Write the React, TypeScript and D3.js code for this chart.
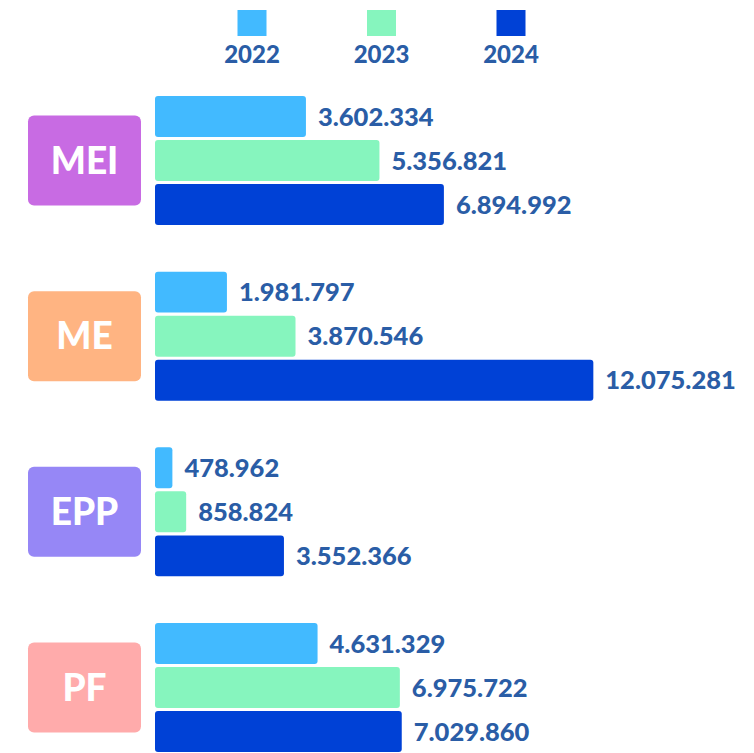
import React from "react";
import * as d3 from "d3";

const categories = ["MEI", "ME", "EPP", "PF"];
const years = ["2022", "2023", "2024"];
const values2022 = [3602334, 1981797, 478962, 4631329];
const values2023 = [5356821, 3870546, 858824, 6975722];
const values2024 = [6894992, 12075281, 3552366, 7029860];
const labels2022 = ["3.602.334", "1.981.797", "478.962", "4.631.329"];
const labels2023 = ["5.356.821", "3.870.546", "858.824", "6.975.722"];
const labels2024 = ["6.894.992", "12.075.281", "3.552.366", "7.029.860"];

// layout / style
const W = 754;
const H = 753;
const yearColors = ["#42BAFF", "#86F5BE", "#0041D6"];
const catColors = ["#C86BE3", "#FFB482", "#9687F6", "#FFABAB"];
const textColor = "#2A5DA6";
// pixels per million, per group (the infographic scales each group separately)
const groupPxPerMillion = [41.9, 36.3, 36.3, 35.1];
const FONT = "Lato, 'Open Sans', sans-serif";

export default function App() {
  const series = [values2022, values2023, values2024];
  const labels = [labels2022, labels2023, labels2024];

  const x0 = 155;
  const yGroup = d3
    .scaleBand<string>()
    .domain(categories)
    .range([96, 752])
    .paddingInner(0.2657)
    .paddingOuter(0);
  const groupH = yGroup.bandwidth();
  const ySub = d3.scaleBand<string>().domain(years).range([0, groupH]).paddingInner(0.07);

  const legendX = d3.scalePoint<string>().domain(years).range([252, 511]);

  return (
    <svg
      width={W}
      height={H}
      style={{ position: "absolute", left: 0, top: 0, background: "#fff" }}
      fontFamily={FONT}
    >
      {/* legend */}
      {years.map((yr, i) => (
        <g key={yr} transform={`translate(${legendX(yr)},0)`}>
          <rect x={-14.5} y={10} width={29} height={26} fill={yearColors[i]} />
          <text
            x={0}
            y={63}
            textAnchor="middle"
            fontSize={24}
            fontWeight={900}
            fill={textColor}
          >
            {yr}
          </text>
        </g>
      ))}

      {categories.map((cat, ci) => {
        const gy = yGroup(cat)!;
        const xs = d3
          .scaleLinear()
          .domain([0, 1e6])
          .range([0, groupPxPerMillion[ci]]);
        const cy = gy + groupH / 2;
        return (
          <g key={cat}>
            <rect
              x={28}
              y={cy - 45}
              width={113}
              height={90}
              rx={6}
              fill={catColors[ci]}
            />
            <text
              x={84.5}
              y={cy}
              dy="0.36em"
              textAnchor="middle"
              fontSize={37}
              fontWeight={900}
              fill="#fff"
            >
              {cat}
            </text>
            {years.map((yr, yi) => {
              const v = series[yi][ci];
              const w = xs(v);
              const by = gy + ySub(yr)!;
              const bh = ySub.bandwidth();
              return (
                <g key={yr}>
                  <rect
                    x={x0}
                    y={by}
                    width={w}
                    height={bh}
                    rx={3}
                    fill={yearColors[yi]}
                  />
                  <text
                    x={x0 + w + 12}
                    y={by + bh / 2}
                    dy="0.36em"
                    fontSize={25.5}
                    fontWeight={900}
                    fill={textColor}
                  >
                    {labels[yi][ci]}
                  </text>
                </g>
              );
            })}
          </g>
        );
      })}
    </svg>
  );
}
